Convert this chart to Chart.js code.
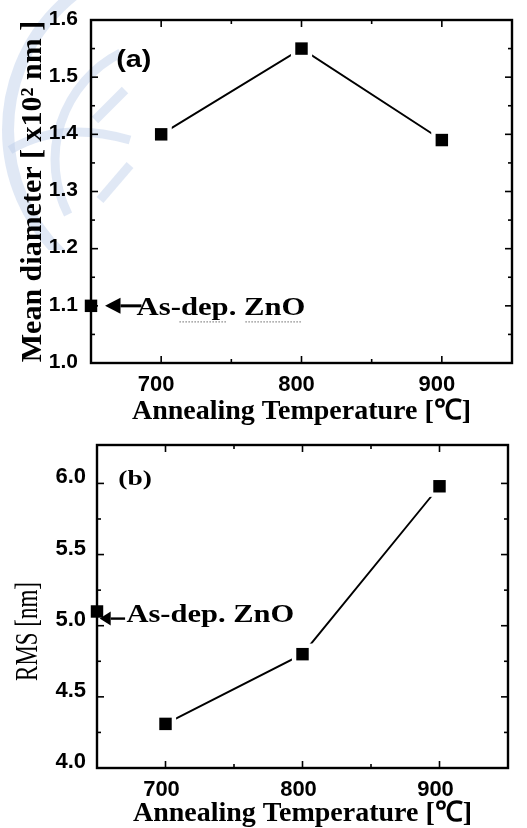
<!DOCTYPE html>
<html><head><meta charset="utf-8">
<script src="https://cdn.jsdelivr.net/npm/chart.js@4.4.1/dist/chart.umd.min.js"></script>
<style>
html,body{margin:0;padding:0;background:#fff;width:527px;height:828px;overflow:hidden;}
canvas{position:absolute;left:0;}
#ca{top:0;}
#cb{top:430px;}
</style></head><body>
<canvas id="ca" width="527" height="430"></canvas>
<canvas id="cb" width="527" height="398"></canvas>
<script>
// ---- data ----
const temperatures = [700, 800, 900];
const meanDiameter = [1.40, 1.55, 1.39];     // x10^2 nm
const rmsRoughness = [4.31, 4.80, 5.98];     // nm
const asDepTemperature = 650;
const asDepDiameter = 1.10;
const asDepRms = 5.10;
const asDepLabel = 'As-dep. ZnO';
const xTickValues = [700, 800, 900];
const xMinorTickValues = [750, 850];
const yTickValuesA = [1.0, 1.1, 1.2, 1.3, 1.4, 1.5, 1.6];
const yMinorTickValuesA = [1.05, 1.15, 1.25, 1.35, 1.45, 1.55];
const yTickValuesB = [4.0, 4.5, 5.0, 5.5, 6.0];
const yMinorTickValuesB = [4.25, 4.75, 5.25, 5.75];
const xTitle = 'Annealing Temperature [\u2103]';
const yTitleA = 'Mean diameter [ x10\u00B2 nm ]';
const yTitleB = 'RMS [nm]';

const SERIF = "'Liberation Serif','Times New Roman',serif";
const SANS = "'Liberation Sans',Arial,sans-serif";

function pts(xs, ys) { return xs.map((t, i) => ({x: t, y: ys[i]})); }

function stretchText(ctx, text, x, y, font, sx, align, baseline, rot) {
  ctx.save();
  ctx.translate(x, y);
  if (rot) ctx.rotate(rot);
  ctx.scale(sx, 1);
  ctx.font = font;
  ctx.textAlign = align;
  ctx.textBaseline = baseline;
  ctx.fillStyle = '#000';
  ctx.fillText(text, 0, 0);
  ctx.restore();
}

const frameTicks = {
  id: 'frameTicks',
  beforeDatasetsDraw(chart, args, o) {
    const {ctx, chartArea: a, scales: {x, y}} = chart;
    ctx.save();
    ctx.strokeStyle = '#000';
    ctx.lineWidth = 1.6;
    const seg = (x1, y1, x2, y2) => { ctx.beginPath(); ctx.moveTo(x1, y1); ctx.lineTo(x2, y2); ctx.stroke(); };
    const xt = (vals, len) => vals.forEach(v => { const p = x.getPixelForValue(v); seg(p, a.bottom, p, a.bottom - len); seg(p, a.top, p, a.top + len); });
    const yt = (vals, len) => vals.forEach(v => { const p = y.getPixelForValue(v); seg(a.left, p, a.left + len, p); seg(a.right, p, a.right - len, p); });
    xt(o.xMajor, 7); xt(o.xMinor, 4);
    yt(o.yMajor, 7); yt(o.yMinor, 4);
    ctx.lineWidth = 2.4;
    ctx.strokeRect(a.left, a.top, a.right - a.left, a.bottom - a.top);
    ctx.restore();
  }
};

function markerSets(xs, ys, extra) {
  return [
    {label: 'data', data: pts(xs, ys), showLine: false, pointStyle: 'rect', pointRadius: 8.8,
     pointBackgroundColor: '#000', pointBorderWidth: 0, order: 0},
    {label: 'line', data: pts(xs, ys), showLine: true, borderColor: '#000', borderWidth: 1.9,
     pointStyle: 'rect', pointRadius: 15, pointBackgroundColor: '#fff', pointBorderWidth: 0, order: 1},
    {label: 'as-dep', data: [extra], showLine: false, pointStyle: 'rect', pointRadius: 8.8,
     pointBackgroundColor: '#000', pointBorderWidth: 0, clip: false, order: 0}
  ];
}

function baseOptions(cfg) {
  return {
    responsive: false, animation: false, events: [],
    layout: {padding: cfg.padding},
    plugins: {legend: {display: false}, tooltip: {enabled: false},
      frameTicks: {xMajor: xTickValues, xMinor: xMinorTickValues, yMajor: cfg.yMajor, yMinor: cfg.yMinor}},
    scales: {
      x: {type: 'linear', min: 650, max: 950,
        grid: {display: false, drawTicks: false}, border: {display: false},
        afterBuildTicks: s => { s.ticks = xTickValues.map(v => ({value: v})); },
        afterFit: s => { s.height = cfg.xHeight; s.paddingLeft = 0; s.paddingRight = 0; },
        ticks: {color: '#000', font: {family: SANS, size: 22, weight: 'bold'}, padding: 9,
          labelOffset: cfg.xLabelOffset, maxRotation: 0, autoSkip: false, callback: v => String(v)},
        title: {display: true, text: xTitle, color: '#000',
          font: {family: SERIF, size: 28, weight: 'bold', lineHeight: 1}, padding: {top: 0, bottom: cfg.xTitlePad}}
      },
      y: {type: 'linear', min: cfg.yMin, max: cfg.yMax,
        grid: {display: false, drawTicks: false}, border: {display: false},
        afterBuildTicks: s => { s.ticks = cfg.yMajor.map(v => ({value: v})); },
        afterFit: s => { s.width = cfg.yWidth; s.paddingTop = 0; s.paddingBottom = 0; },
        ticks: {color: '#000', font: {family: SANS, size: cfg.yFont, weight: 'bold'}, padding: cfg.yPad,
          labelOffset: cfg.yLabelOffset, autoSkip: false, callback: v => v.toFixed(1)},
        title: cfg.yTitle
      }
    }
  };
}

// ---- panel (a) ----
const watermark = {
  id: 'watermark',
  beforeDraw(chart) {
    const ctx = chart.ctx;
    ctx.save();
    ctx.beginPath(); ctx.rect(0, 0, 140, 250); ctx.clip();
    ctx.strokeStyle = 'rgba(186,203,232,0.45)';
    ctx.lineWidth = 12;
    ctx.beginPath(); ctx.arc(180, 130, 172, Math.PI * 0.62, Math.PI * 1.42); ctx.stroke();
    ctx.lineWidth = 9;
    ctx.beginPath(); ctx.arc(175, 160, 120, Math.PI * 0.85, Math.PI * 1.35); ctx.stroke();
    ctx.beginPath(); ctx.moveTo(10, 150); ctx.quadraticCurveTo(60, 120, 130, 140); ctx.stroke();
    ctx.beginPath(); ctx.moveTo(95, 120); ctx.lineTo(125, 90); ctx.stroke();
    ctx.beginPath(); ctx.moveTo(100, 200); ctx.lineTo(130, 165); ctx.stroke();
    ctx.restore();
  }
};

const annotA = {
  id: 'annotA',
  afterDraw(chart) {
    const {ctx, scales: {x, y}} = chart;
    const yp = y.getPixelForValue(asDepDiameter);
    const tip = x.getPixelForValue(660), back = x.getPixelForValue(671), end = x.getPixelForValue(686);
    ctx.save();
    ctx.fillStyle = '#000'; ctx.strokeStyle = '#000';
    ctx.beginPath(); ctx.moveTo(tip, yp); ctx.lineTo(back, yp - 8); ctx.lineTo(back, yp + 8); ctx.closePath(); ctx.fill();
    ctx.lineWidth = 3; ctx.beginPath(); ctx.moveTo(back, yp); ctx.lineTo(end, yp); ctx.stroke();
    stretchText(ctx, asDepLabel, x.getPixelForValue(682.5), yp + 9, 'bold 26px ' + SERIF, 1.18, 'left', 'alphabetic');
    // spell-check style dotted underline
    ctx.strokeStyle = '#888'; ctx.lineWidth = 1.2; ctx.setLineDash([1.5, 1.5]);
    const ul = yp + 16;
    ctx.beginPath(); ctx.moveTo(x.getPixelForValue(713), ul); ctx.lineTo(x.getPixelForValue(747), ul); ctx.stroke();
    ctx.beginPath(); ctx.moveTo(x.getPixelForValue(760), ul); ctx.lineTo(x.getPixelForValue(800), ul); ctx.stroke();
    ctx.setLineDash([]);
    stretchText(ctx, '(a)', x.getPixelForValue(668), y.getPixelForValue(1.53), 'bold 24px ' + SANS, 1.2, 'left', 'middle');
    ctx.restore();
  }
};

new Chart(document.getElementById('ca'), {
  type: 'scatter',
  data: {datasets: markerSets(temperatures, meanDiameter, {x: asDepTemperature, y: asDepDiameter})},
  options: baseOptions({
    padding: {left: 0, right: 6, top: 20, bottom: 0},
    xHeight: 67, yWidth: 91, yMin: 1.0, yMax: 1.6, yMajor: yTickValuesA, yMinor: yMinorTickValuesA,
    yFont: 21, yPad: 13, yLabelOffset: -1, xLabelOffset: -5, xTitlePad: 4,
    yTitle: {display: true, text: yTitleA, color: '#000',
      font: {family: SERIF, size: 30, weight: 'bold', lineHeight: 1.2}, padding: {top: 15, bottom: 0}}
  }),
  plugins: [watermark, frameTicks, annotA]
});

// ---- panel (b) ----
const annotB = {
  id: 'annotB',
  afterDraw(chart) {
    const {ctx, chartArea: a, scales: {x, y}} = chart;
    const yp = y.getPixelForValue(5.05);
    const tip = x.getPixelForValue(652), back = x.getPixelForValue(660), end = x.getPixelForValue(670.5);
    ctx.save();
    ctx.fillStyle = '#000'; ctx.strokeStyle = '#000';
    ctx.beginPath(); ctx.moveTo(tip, yp); ctx.lineTo(back, yp - 7); ctx.lineTo(back, yp + 7); ctx.closePath(); ctx.fill();
    ctx.lineWidth = 2.4; ctx.beginPath(); ctx.moveTo(back, yp); ctx.lineTo(end, yp); ctx.stroke();
    stretchText(ctx, asDepLabel, x.getPixelForValue(671.5), yp + 3, 'bold 25px ' + SERIF, 1.22, 'left', 'alphabetic');
    stretchText(ctx, '(b)', x.getPixelForValue(665.5), y.getPixelForValue(6.03), 'bold 22px ' + SERIF, 1.25, 'left', 'middle');
    // y axis title
    ctx.save();
    ctx.translate(29, (a.top + a.bottom) / 2 + 25);
    ctx.rotate(-Math.PI / 2);
    ctx.scale(0.74, 1);
    ctx.font = '31px ' + SERIF; ctx.textAlign = 'center'; ctx.textBaseline = 'middle'; ctx.fillStyle = '#000';
    ctx.fillText(yTitleB, 0, 0);
    ctx.restore();
    ctx.restore();
  }
};

new Chart(document.getElementById('cb'), {
  type: 'scatter',
  data: {datasets: markerSets(temperatures, rmsRoughness, {x: asDepTemperature, y: asDepRms})},
  options: baseOptions({
    padding: {left: 0, right: 19, top: 3, bottom: 0},
    xHeight: 60, yWidth: 97, yMin: 4.0, yMax: 6.27, yMajor: yTickValuesB, yMinor: yMinorTickValuesB,
    yFont: 22, yPad: 11, yLabelOffset: -6, xLabelOffset: -4, xTitlePad: 0,
    yTitle: {display: false}
  }),
  plugins: [frameTicks, annotB]
});
</script>
</body></html>
